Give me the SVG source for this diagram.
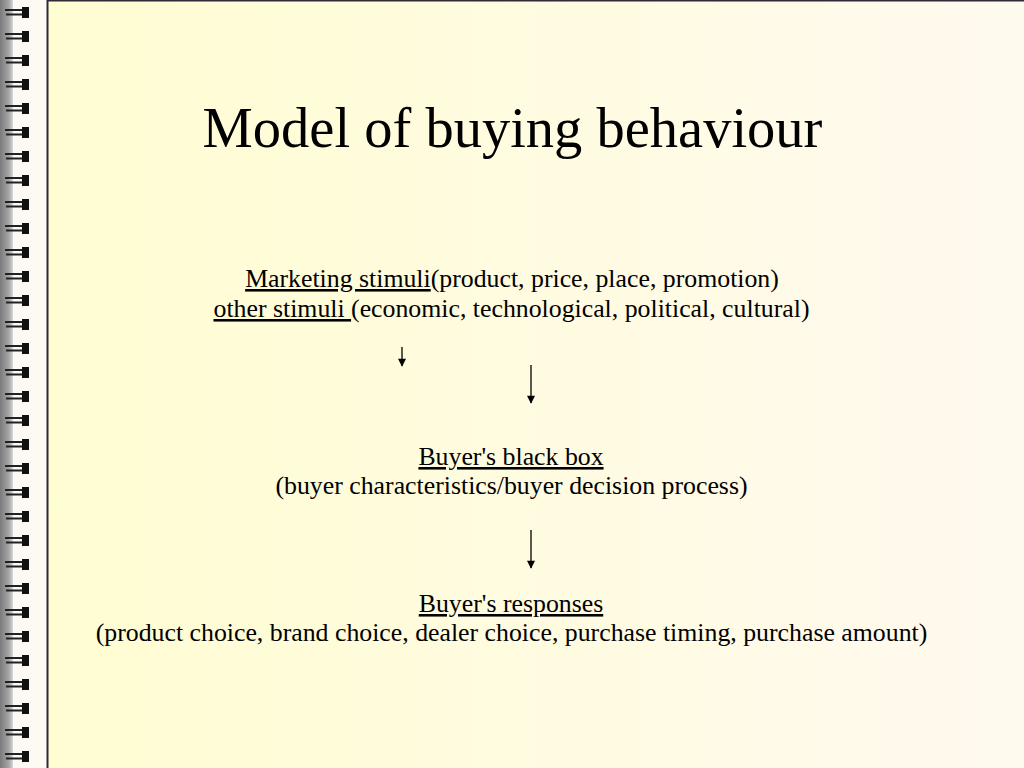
<svg xmlns="http://www.w3.org/2000/svg" xmlns:xlink="http://www.w3.org/1999/xlink" width="1024" height="768" viewBox="0 0 1024 768">
<defs>
<linearGradient id="page" x1="0" y1="0" x2="1" y2="0">
<stop offset="0" stop-color="#FFFDD2"/>
<stop offset="1" stop-color="#FFFAEF"/>
</linearGradient>
<linearGradient id="spine" x1="0" y1="0" x2="1" y2="0">
<stop offset="0" stop-color="#7a7a7a"/>
<stop offset="0.7" stop-color="#a8a8a8"/>
<stop offset="1" stop-color="#d8d8d8"/>
</linearGradient>
<marker id="ah" viewBox="0 0 10 10" refX="9" refY="5" markerWidth="9" markerHeight="8" markerUnits="userSpaceOnUse" orient="auto">
<path d="M0,0 L10,5 L0,10 z" fill="#000"/>
</marker>
<g id="ring">
<line x1="5" y1="-2.5" x2="23" y2="-2.5" stroke="#222" stroke-width="2"/>
<line x1="6" y1="2" x2="23" y2="2" stroke="#222" stroke-width="2"/>
<rect x="22" y="-5.5" width="7" height="11" fill="#111"/>
</g>
</defs>
<style>
.t{font-family:"Liberation Serif","Times New Roman",serif;fill:#000;text-anchor:middle}
.title{font-size:56.5px}
.body{font-size:25.8px}
.u{text-decoration:underline}
.conn line{stroke:#000;stroke-width:1.3;marker-end:url(#ah)}
</style>
<rect x="0" y="0" width="1024" height="768" fill="#FDF9F3"/>
<rect x="0" y="0" width="13" height="768" fill="url(#spine)"/>
<rect x="48" y="0" width="976" height="768" fill="url(#page)"/>
<line x1="47.5" y1="0" x2="47.5" y2="768" stroke="#2e2a36" stroke-width="2"/>
<line x1="47" y1="0.75" x2="1024" y2="0.75" stroke="#2e2a36" stroke-width="1.5"/>
<g id="binding">
<use xlink:href="#ring" y="12.5"/><use xlink:href="#ring" y="36.5"/><use xlink:href="#ring" y="60.5"/><use xlink:href="#ring" y="84.5"/>
<use xlink:href="#ring" y="108.5"/><use xlink:href="#ring" y="132.5"/><use xlink:href="#ring" y="156.5"/><use xlink:href="#ring" y="180.5"/>
<use xlink:href="#ring" y="204.5"/><use xlink:href="#ring" y="228.5"/><use xlink:href="#ring" y="252.5"/><use xlink:href="#ring" y="276.5"/>
<use xlink:href="#ring" y="300.5"/><use xlink:href="#ring" y="324.5"/><use xlink:href="#ring" y="348.5"/><use xlink:href="#ring" y="372.5"/>
<use xlink:href="#ring" y="396.5"/><use xlink:href="#ring" y="420.5"/><use xlink:href="#ring" y="444.5"/><use xlink:href="#ring" y="468.5"/>
<use xlink:href="#ring" y="492.5"/><use xlink:href="#ring" y="516.5"/><use xlink:href="#ring" y="540.5"/><use xlink:href="#ring" y="564.5"/>
<use xlink:href="#ring" y="588.5"/><use xlink:href="#ring" y="612.5"/><use xlink:href="#ring" y="636.5"/><use xlink:href="#ring" y="660.5"/>
<use xlink:href="#ring" y="684.5"/><use xlink:href="#ring" y="708.5"/><use xlink:href="#ring" y="732.5"/><use xlink:href="#ring" y="756.5"/>
</g>
<g id="title"><text class="t title" x="512.5" y="147">Model of buying behaviour</text></g>
<g id="stimuli">
<text class="t body" x="512" y="287"><tspan class="u">Marketing stimuli</tspan>(product, price, place, promotion)</text>
<text class="t body" x="511.5" y="317"><tspan class="u">other stimuli </tspan>(economic, technological, political, cultural)</text>
</g>
<g id="blackbox">
<text class="t body" x="511" y="465"><tspan class="u">Buyer's black box</tspan></text>
<text class="t body" x="511.5" y="494">(buyer characteristics/buyer decision process)</text>
</g>
<g id="responses">
<text class="t body" x="511" y="612"><tspan class="u">Buyer's responses</tspan></text>
<text class="t body" x="511.5" y="641">(product choice, brand choice, dealer choice, purchase timing, purchase amount)</text>
</g>
<g class="conn" id="connectors">
<line x1="402" y1="347" x2="402" y2="366"/>
<line x1="531" y1="365" x2="531" y2="403"/>
<line x1="531" y1="530" x2="531" y2="568"/>
</g>
</svg>
